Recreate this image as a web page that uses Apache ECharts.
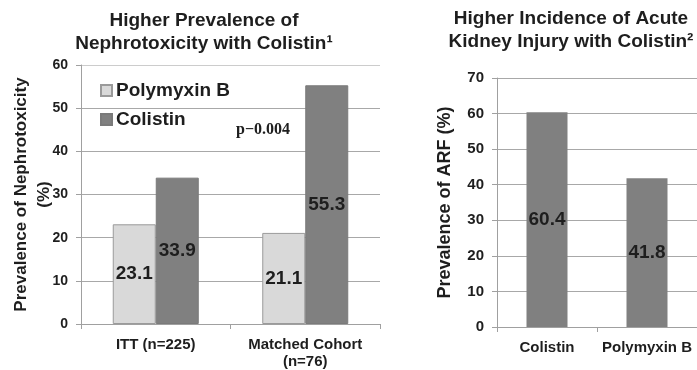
<!DOCTYPE html>
<html>
<head>
<meta charset="utf-8">
<script src="https://cdn.jsdelivr.net/npm/echarts@6/dist/echarts.min.js"></script>
<style>html,body{margin:0;padding:0;background:#fff;}#c{width:697px;height:370px;}</style>
</head>
<body>
<div id="c"></div>
<script>
// ---- data ----
var leftCategories = ['ITT (n=225)', 'Matched Cohort\n(n=76)'];
var polymyxinB = [23.1, 21.1];
var colistin = [33.9, 55.3];
var leftMax = 60, leftInterval = 10;

var rightCategories = ['Colistin', 'Polymyxin B'];
var arf = [60.4, 41.8];
var rightMax = 70, rightInterval = 10;

var leftTitle = 'Higher Prevalence of\nNephrotoxicity with Colistin\u00b9';
var rightTitle = 'Higher Incidence of Acute\nKidney Injury with Colistin\u00b2';
var leftYName = 'Prevalence of Nephrotoxicity\n(%)';
var rightYName = 'Prevalence of ARF (%)';
var pText = 'p\u22120.004';

// ---- chart ----
var FONT = 'Liberation Sans, Arial, sans-serif';
var TXT = '#1e1e1e';
var chart = echarts.init(document.getElementById('c'), null, {renderer: 'canvas'});
var leftSplitColors = ['#a8a8a8','#a8a8a8','#a8a8a8','#a8a8a8','#a8a8a8','#a8a8a8','#cccccc'];
var labelStyle = {show: true, position: 'inside', color: TXT, fontFamily: FONT, fontWeight: 'bold', fontSize: 19};
chart.setOption({
  animation: false,
  backgroundColor: '#fff',
  textStyle: {fontFamily: FONT},
  title: [
    {text: leftTitle, left: 204, top: 9, textAlign: 'center', padding: 0,
     textStyle: {fontFamily: FONT, fontWeight: 'bold', fontSize: 19, lineHeight: 23, color: TXT}},
    {text: rightTitle, left: 571, top: 7, textAlign: 'center', padding: 0,
     textStyle: {fontFamily: FONT, fontWeight: 'bold', fontSize: 19, lineHeight: 23, color: TXT}}
  ],
  legend: {
    orient: 'vertical', left: 100, top: 81, itemWidth: 11, itemHeight: 11, itemGap: 10,
    icon: 'rect', padding: 0,
    data: ['Polymyxin B', 'Colistin'],
    textStyle: {fontFamily: FONT, fontWeight: 'bold', fontSize: 19, color: TXT, padding: [0,0,0,-1]}
  },
  graphic: [
    {type: 'text', left: 236, top: 122, style: {text: pText, font: 'bold 16px "Liberation Serif", "Times New Roman", serif', fill: TXT}}
  ],
  grid: [
    {left: 81, top: 65, width: 299, height: 260, containLabel: false},
    {left: 497, top: 78, width: 200, height: 249, containLabel: false}
  ],
  xAxis: [
    {type: 'category', gridIndex: 0, data: leftCategories,
     axisLine: {lineStyle: {color: '#a0a0a0'}},
     axisTick: {show: true, alignWithLabel: false, length: 5, lineStyle: {color: '#a0a0a0'}},
     axisLabel: {interval: 0, color: TXT, fontWeight: 'bold', fontSize: 15, margin: 12, lineHeight: 17, fontFamily: FONT}},
    {type: 'category', gridIndex: 1, data: rightCategories,
     axisLine: {lineStyle: {color: '#a0a0a0'}},
     axisTick: {show: true, alignWithLabel: false, length: 5, lineStyle: {color: '#a0a0a0'}},
     axisLabel: {interval: 0, hideOverlap: false, color: TXT, fontWeight: 'bold', fontSize: 15, margin: 13, fontFamily: FONT}}
  ],
  yAxis: [
    {type: 'value', gridIndex: 0, min: 0, max: leftMax, interval: leftInterval,
     name: leftYName, nameLocation: 'middle', nameGap: 25, nameRotate: 90, nameMoveOverlap: false,
     nameTextStyle: {color: TXT, fontWeight: 'bold', fontSize: 17, lineHeight: 23, fontFamily: FONT},
     axisLine: {show: true, lineStyle: {color: '#a0a0a0'}},
     axisTick: {show: true, length: 5, lineStyle: {color: '#a0a0a0'}},
     axisLabel: {color: TXT, fontWeight: 'bold', fontSize: 14, margin: 13, fontFamily: FONT},
     splitLine: {show: true, lineStyle: {color: leftSplitColors, width: 1}}},
    {type: 'value', gridIndex: 1, min: 0, max: rightMax, interval: rightInterval,
     name: rightYName, nameLocation: 'middle', nameGap: 43, nameRotate: 90, nameMoveOverlap: false,
     nameTextStyle: {color: TXT, fontWeight: 'bold', fontSize: 18, fontFamily: FONT},
     axisLine: {show: true, lineStyle: {color: '#a0a0a0'}},
     axisTick: {show: true, length: 5, lineStyle: {color: '#a0a0a0'}},
     axisLabel: {color: TXT, fontWeight: 'bold', fontSize: 15, margin: 13, fontFamily: FONT},
     splitLine: {show: true, lineStyle: {color: '#a8a8a8', width: 1}}}
  ],
  series: [
    {name: 'Polymyxin B', type: 'bar', xAxisIndex: 0, yAxisIndex: 0, data: polymyxinB,
     barWidth: 43, barGap: '0%',
     itemStyle: {color: '#d9d9d9', borderColor: '#9a9a9a', borderWidth: 1},
     label: labelStyle},
    {name: 'Colistin', type: 'bar', xAxisIndex: 0, yAxisIndex: 0, data: colistin,
     barWidth: 43, barGap: '0%',
     itemStyle: {color: '#808080', borderColor: '#7a7a7a', borderWidth: 1},
     label: labelStyle},
    {name: 'ARF', type: 'bar', xAxisIndex: 1, yAxisIndex: 1, data: arf,
     barWidth: 41,
     itemStyle: {color: '#808080'},
     label: labelStyle}
  ]
});
</script>
</body>
</html>
